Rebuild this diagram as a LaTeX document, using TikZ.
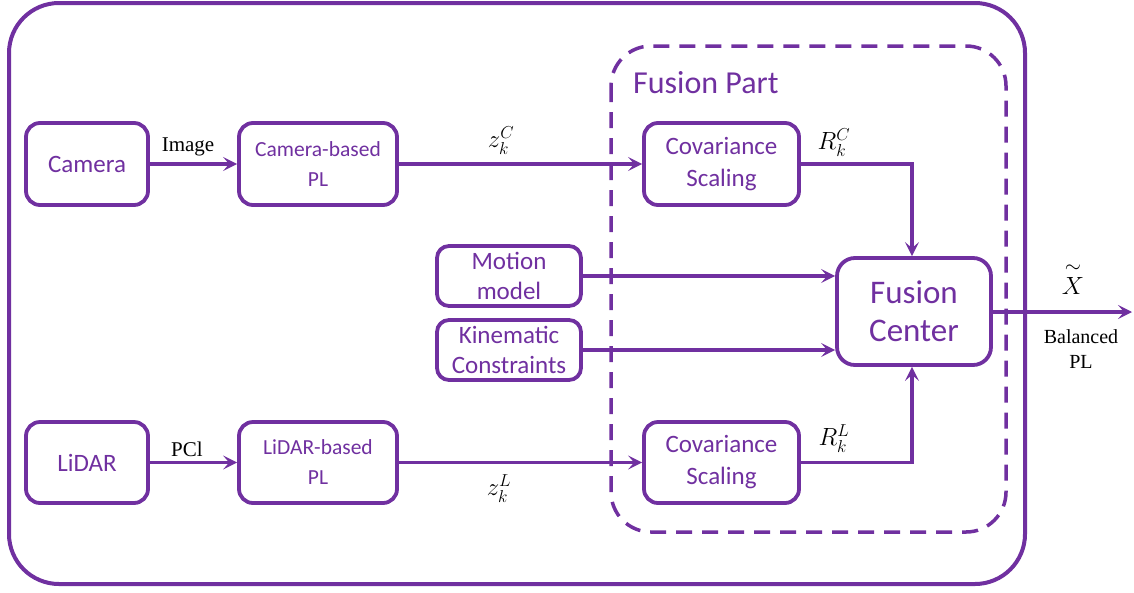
\documentclass[tikz,border=0pt]{standalone}
\usepackage{fontspec}
\usepackage{amsmath}
\newfontfamily\calib{Carlito}
\newfontfamily\tnr{Liberation Serif}
\usetikzlibrary{arrows.meta}
\definecolor{violet}{HTML}{7030A0}
\tikzset{
  blk/.style={draw=violet, line width=3.8pt, rounded corners=14pt, fill=white,
    text=violet, align=center, inner sep=0pt, font=\calib\fontsize{25}{31}\selectfont},
  flow/.style={draw=violet, line width=3.2pt, -{Stealth[length=14pt,width=14pt,inset=6pt]}},
  lbl/.style={font=\tnr\fontsize{21}{26}\selectfont, text=black, align=center, inner sep=0pt},
  mlbl/.style={font=\fontsize{27}{30}\selectfont, text=black, inner sep=0pt}
}
\begin{document}
\begin{tikzpicture}[x=1pt,y=-1pt]
\useasboundingbox (0,0) rectangle (1134,592);
% enclosing frame and the fusion region
\draw[violet, line width=4pt, rounded corners=50pt] (9,3) rectangle (1025,584);
\draw[violet, line width=3.5pt, dash pattern=on 16pt off 10pt, rounded corners=40pt] (611,46) rectangle (1006,532);
\node[anchor=west, text=violet, font=\calib\fontsize{32}{36}\selectfont, inner sep=0pt] (fpart) at (633,83) {Fusion Part};

% blocks
\node[blk, minimum width=122pt, minimum height=82pt] (cam) at (87,164) {Camera};
\node[blk, minimum width=158pt, minimum height=82pt, font=\calib\fontsize{21.5}{30}\selectfont] (campl) at (318,164) {Camera-based\\PL};
\node[blk, minimum width=155pt, minimum height=82pt, font=\calib\fontsize{25}{32}\selectfont] (covc) at (721.5,164) {Covariance\\Scaling};
\node[blk, minimum width=144pt, minimum height=60pt, rounded corners=12pt, font=\calib\fontsize{25}{30}\selectfont] (motion) at (509,276) {Motion\\model};
\node[blk, minimum width=144pt, minimum height=60pt, rounded corners=12pt, font=\calib\fontsize{25}{30}\selectfont] (kin) at (509,350) {Kinematic\\Constraints};
\node[blk, minimum width=154pt, minimum height=107pt, rounded corners=18pt, font=\calib\fontsize{33}{38}\selectfont] (fc) at (914,311.5) {Fusion\\Center};
\node[blk, minimum width=122pt, minimum height=81pt] (lidar) at (87,462.5) {LiDAR};
\node[blk, minimum width=158pt, minimum height=81pt, font=\calib\fontsize{21.5}{30}\selectfont] (lidpl) at (318,462.5) {LiDAR-based\\PL};
\node[blk, minimum width=155pt, minimum height=81pt, font=\calib\fontsize{25}{32}\selectfont] (covl) at (721.5,462.5) {Covariance\\Scaling};

\coordinate (out) at (1132,312);
\coordinate (cornc) at (912,164);
\coordinate (cornl) at (912,462.5);

% connectors
\draw[flow] (cam) -- (campl);
\draw[flow] (campl) -- (covc);
\draw[flow] (covc.east) -- (cornc) -- (cornc |- fc.north);
\draw[flow] (motion.east) -- (motion.east -| fc.west);
\draw[flow] (kin.east) -- (kin.east -| fc.west);
\draw[flow] (lidar) -- (lidpl);
\draw[flow] (lidpl) -- (covl);
\draw[flow] (covl.east) -- (cornl) -- (cornl |- fc.south);
\draw[flow] (fc.east |- out) -- (out);

% labels
\node[lbl] (limg) at (188,147) {Image};
\node[lbl] (lpcl) at (187,449) {PCl};
\node[mlbl] (lzc) at (501,141) {$z_k^C$};
\node[mlbl] (lzl) at (499,489) {$z_k^L$};
\node[mlbl] (lrc) at (834,143) {$R_k^C$};
\node[mlbl] (lrl) at (834,439) {$R_k^L$};
\node[mlbl, font=\fontsize{30}{32}\selectfont] (lx) at (1073,278) {$\overset{\sim}{X}$};
\node[lbl, font=\tnr\fontsize{20}{25}\selectfont] (lbal) at (1081,349) {Balanced\\PL};
\end{tikzpicture}
\end{document}
